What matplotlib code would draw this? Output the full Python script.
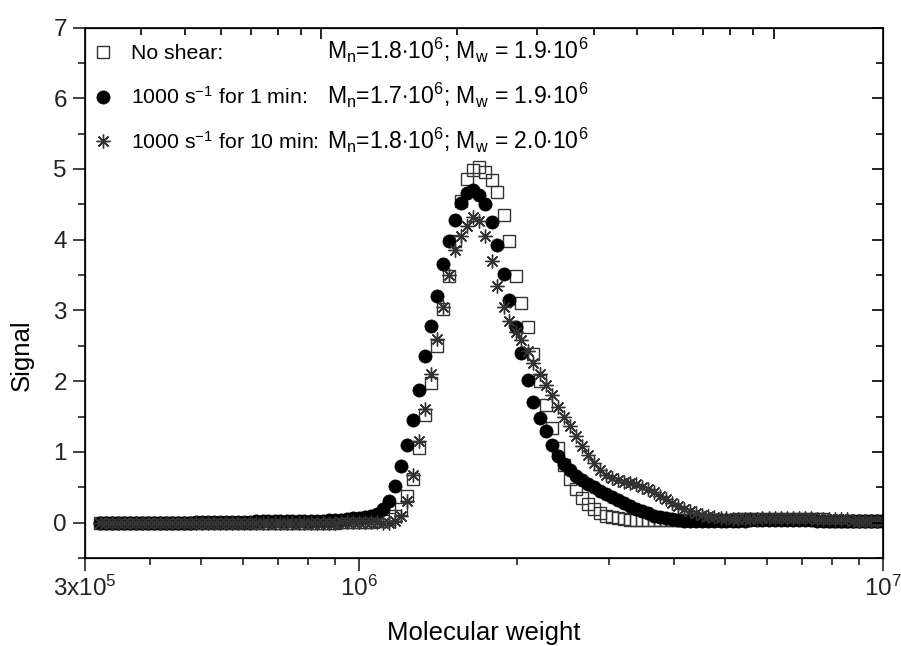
import numpy as np
import matplotlib
matplotlib.use("Agg")
import matplotlib.pyplot as plt
from matplotlib.ticker import FixedLocator, MultipleLocator, NullFormatter

plt.rcParams['font.family'] = ['Liberation Sans', 'DejaVu Sans']
plt.rcParams['mathtext.fontset'] = 'custom'
plt.rcParams['mathtext.rm'] = 'Liberation Sans'
plt.rcParams['mathtext.it'] = 'Liberation Sans:italic'
plt.rcParams['mathtext.bf'] = 'Liberation Sans:bold'

# log10 of molecular weight for every GPC slice
log_mw = [
    5.505, 5.517, 5.528, 5.540, 5.551, 5.563, 5.574, 5.586, 5.597, 5.609,
    5.620, 5.632, 5.643, 5.655, 5.666, 5.678, 5.689, 5.701, 5.712, 5.724,
    5.735, 5.747, 5.758, 5.770, 5.781, 5.793, 5.804, 5.816, 5.827, 5.839,
    5.850, 5.862, 5.873, 5.885, 5.896, 5.908, 5.919, 5.931, 5.942, 5.954,
    5.965, 5.977, 5.988, 6.000, 6.011, 6.023, 6.034, 6.046, 6.057, 6.069,
    6.080, 6.092, 6.103, 6.115, 6.126, 6.138, 6.149, 6.161, 6.172, 6.184,
    6.195, 6.207, 6.218, 6.230, 6.241, 6.253, 6.264, 6.276, 6.287, 6.299,
    6.310, 6.322, 6.333, 6.345, 6.356, 6.368, 6.379, 6.391, 6.402, 6.414,
    6.425, 6.437, 6.448, 6.460, 6.471, 6.483, 6.494, 6.506, 6.517, 6.529,
    6.540, 6.552, 6.563, 6.575, 6.586, 6.598, 6.609, 6.621, 6.632, 6.644,
    6.655, 6.667, 6.678, 6.690, 6.701, 6.713, 6.724, 6.736, 6.747, 6.759,
    6.770, 6.782, 6.793, 6.805, 6.816, 6.828, 6.839, 6.851, 6.862, 6.874,
    6.885, 6.897, 6.908, 6.920, 6.931, 6.943, 6.954, 6.966, 6.977, 6.989,
    7.000,
]

# No shear (open squares)
no_shear = [
    0.00, 0.00, 0.00, 0.00, 0.00, 0.00, 0.00, 0.00, 0.00, 0.00,
    0.00, 0.00, 0.00, 0.00, 0.00, 0.00, 0.00, 0.00, 0.00, 0.00,
    0.00, 0.00, 0.00, 0.00, 0.00, 0.00, 0.00, 0.00, 0.00, 0.00,
    0.00, 0.00, 0.00, 0.00, 0.00, 0.00, 0.00, 0.00, 0.00, 0.00,
    0.01, 0.01, 0.01, 0.01, 0.01, 0.01, 0.02, 0.03, 0.05, 0.10,
    0.20, 0.38, 0.62, 1.05, 1.52, 1.98, 2.50, 3.02, 3.48, 3.98,
    4.55, 4.86, 4.98, 5.03, 4.96, 4.84, 4.67, 4.35, 3.98, 3.48,
    3.10, 2.77, 2.38, 2.00, 1.66, 1.34, 1.05, 0.82, 0.62, 0.47,
    0.35, 0.26, 0.19, 0.14, 0.10, 0.08, 0.06, 0.05, 0.04, 0.04,
    0.04, 0.04, 0.04, 0.04, 0.04, 0.04, 0.04, 0.04, 0.04, 0.04,
    0.04, 0.04, 0.04, 0.04, 0.04, 0.04, 0.05, 0.05, 0.05, 0.05,
    0.05, 0.05, 0.05, 0.05, 0.05, 0.05, 0.05, 0.05, 0.05, 0.05,
    0.05, 0.03, 0.03, 0.03, 0.03, 0.03, 0.03, 0.03, 0.03, 0.03,
    0.03,
]

# 1000 s^-1 for 1 min (filled circles)
one_min = [
    0.00, 0.00, 0.00, 0.00, 0.00, 0.00, 0.00, 0.00, 0.00, 0.00,
    0.00, 0.00, 0.00, 0.00, 0.00, 0.00, 0.01, 0.01, 0.01, 0.01,
    0.01, 0.01, 0.01, 0.01, 0.01, 0.01, 0.02, 0.02, 0.02, 0.02,
    0.02, 0.02, 0.02, 0.03, 0.03, 0.03, 0.03, 0.03, 0.04, 0.04,
    0.04, 0.05, 0.06, 0.07, 0.08, 0.09, 0.12, 0.19, 0.30, 0.52,
    0.80, 1.10, 1.45, 1.88, 2.35, 2.78, 3.20, 3.66, 3.98, 4.28,
    4.52, 4.66, 4.70, 4.63, 4.50, 4.25, 3.93, 3.52, 3.15, 2.77,
    2.40, 2.02, 1.70, 1.48, 1.30, 1.10, 0.94, 0.83, 0.74, 0.66,
    0.60, 0.55, 0.50, 0.45, 0.40, 0.36, 0.32, 0.28, 0.24, 0.20,
    0.16, 0.13, 0.10, 0.08, 0.06, 0.05, 0.04, 0.03, 0.03, 0.03,
    0.03, 0.03, 0.03, 0.03, 0.03, 0.03, 0.03, 0.03, 0.04, 0.04,
    0.04, 0.04, 0.04, 0.04, 0.04, 0.04, 0.04, 0.04, 0.04, 0.03,
    0.03, 0.03, 0.03, 0.03, 0.03, 0.02, 0.02, 0.02, 0.02, 0.02,
    0.02,
]

# 1000 s^-1 for 10 min (asterisks)
ten_min = [
    0.00, 0.00, 0.00, 0.00, 0.00, 0.00, 0.00, 0.00, 0.00, 0.00,
    0.00, 0.00, 0.00, 0.00, 0.00, 0.00, 0.00, 0.00, 0.00, 0.00,
    0.00, 0.00, 0.00, 0.00, 0.00, 0.00, 0.00, 0.00, 0.00, 0.00,
    0.00, 0.00, 0.00, 0.00, 0.00, 0.00, 0.00, 0.00, 0.00, 0.00,
    0.01, 0.01, 0.01, 0.01, 0.01, 0.01, 0.01, 0.00, 0.00, 0.02,
    0.10, 0.30, 0.68, 1.15, 1.60, 2.10, 2.60, 3.05, 3.50, 3.85,
    4.05, 4.20, 4.32, 4.27, 4.05, 3.70, 3.35, 3.05, 2.85, 2.70,
    2.58, 2.43, 2.26, 2.10, 1.95, 1.80, 1.64, 1.50, 1.36, 1.22,
    1.08, 0.95, 0.84, 0.75, 0.68, 0.63, 0.60, 0.58, 0.56, 0.54,
    0.51, 0.47, 0.43, 0.38, 0.33, 0.28, 0.24, 0.20, 0.16, 0.13,
    0.11, 0.09, 0.08, 0.07, 0.06, 0.05, 0.05, 0.05, 0.05, 0.05,
    0.07, 0.07, 0.07, 0.07, 0.07, 0.07, 0.07, 0.07, 0.07, 0.05,
    0.05, 0.05, 0.05, 0.05, 0.05, 0.03, 0.03, 0.03, 0.03, 0.03,
    0.03,
]

series_labels = ['No shear:',
                 '1000 s$^\\mathregular{-1}$ for 1 min:',
                 '1000 s$^\\mathregular{-1}$ for 10 min:']
mass_labels = [
    'M$_\\mathregular{n}$=1.8$\\cdot$10$^\\mathregular{6}$; M$_\\mathregular{w}$ = 1.9$\\cdot$10$^\\mathregular{6}$',
    'M$_\\mathregular{n}$=1.7$\\cdot$10$^\\mathregular{6}$; M$_\\mathregular{w}$ = 1.9$\\cdot$10$^\\mathregular{6}$',
    'M$_\\mathregular{n}$=1.8$\\cdot$10$^\\mathregular{6}$; M$_\\mathregular{w}$ = 2.0$\\cdot$10$^\\mathregular{6}$',
]
x_ticks = [3e5, 1e6, 1e7]
x_tick_labels = ['3x10$^\\mathregular{5}$', '10$^\\mathregular{6}$', '10$^\\mathregular{7}$']
x_minor = [4e5, 5e5, 6e5, 7e5, 8e5, 9e5, 2e6, 3e6, 4e6, 5e6, 6e6, 7e6, 8e6, 9e6]

mw = 10 ** np.array(log_mw)

fig = plt.figure(figsize=(9.01, 6.46), dpi=100)
ax = fig.add_axes([0.0943, 0.1362, 0.8857, 0.8212])

ax.plot(mw, no_shear, ls='none', marker='s', ms=8.2, mfc='none',
        mec='#333333', mew=1.0, label=series_labels[0])
ax.plot(mw, one_min, ls='none', marker='o', ms=9.5, mfc='black',
        mec='black', mew=0.5, label=series_labels[1])
ax.plot(mw, ten_min, ls='none', marker=(8, 2, 0), ms=10, mec='#333333',
        mew=1.0, label=series_labels[2])

ax.set_xscale('log')
ax.set_xticks(x_ticks)
ax.set_xticklabels(x_tick_labels)
ax.xaxis.set_minor_locator(FixedLocator(x_minor))
ax.xaxis.set_minor_formatter(NullFormatter())
ax.set_xlim(3e5, 1e7)
ax.set_ylim(-0.5, 7)
ax.yaxis.set_major_locator(MultipleLocator(1))
ax.yaxis.set_minor_locator(MultipleLocator(0.5))

for sp in ax.spines.values():
    sp.set_linewidth(1.2)
ax.tick_params(which='major', direction='out', length=9, width=1.2,
               labelsize=17.5, pad=4, top=False, right=False, colors='#222222')
ax.tick_params(which='minor', direction='out', length=5, width=1.2,
               top=False, right=False, colors='#222222')

ax.set_xlabel('Molecular weight', fontsize=18.5, labelpad=14)
ax.set_ylabel('Signal', fontsize=18.5)
ax.yaxis.set_label_coords(-0.064, 0.383)

# top axis (its own log scale) and right axis, ticks pointing inward
axt = ax.twiny()
axt.set_xscale('log')
axt.set_xlim(3e5, 1.746e7)
axt.xaxis.set_major_locator(FixedLocator([1e6, 1e7]))
axt.xaxis.set_minor_locator(FixedLocator(x_minor))
axt.xaxis.set_minor_formatter(NullFormatter())
axt.tick_params(which='major', direction='in', length=8, width=1.2, labeltop=False)
axt.tick_params(which='minor', direction='in', length=5, width=1.2, labeltop=False)

axr = ax.twinx()
axr.set_ylim(-0.5, 7)
axr.yaxis.set_major_locator(MultipleLocator(1))
axr.yaxis.set_minor_locator(MultipleLocator(0.5))
axr.tick_params(which='major', direction='in', length=8, width=1.2, labelright=False)
axr.tick_params(which='minor', direction='in', length=5, width=1.2, labelright=False)

leg = ax.legend(loc='upper left', bbox_to_anchor=(0.009, 0.968), frameon=False,
                fontsize=15.3, labelspacing=1.07, handlelength=1.0,
                handletextpad=0.85, borderpad=0, borderaxespad=0)

# second legend column, lined up on the baselines of the legend labels
fig.canvas.draw()
for t, s in zip(leg.get_texts(), mass_labels):
    y_disp = t.get_transform().transform((0, 0))[1]
    y_ax = ax.transAxes.inverted().transform((0, y_disp))[1]
    ax.text(0.303, y_ax, s, transform=ax.transAxes, fontsize=16.6,
            va='baseline', ha='left')

fig.savefig('out.png', dpi=100)
